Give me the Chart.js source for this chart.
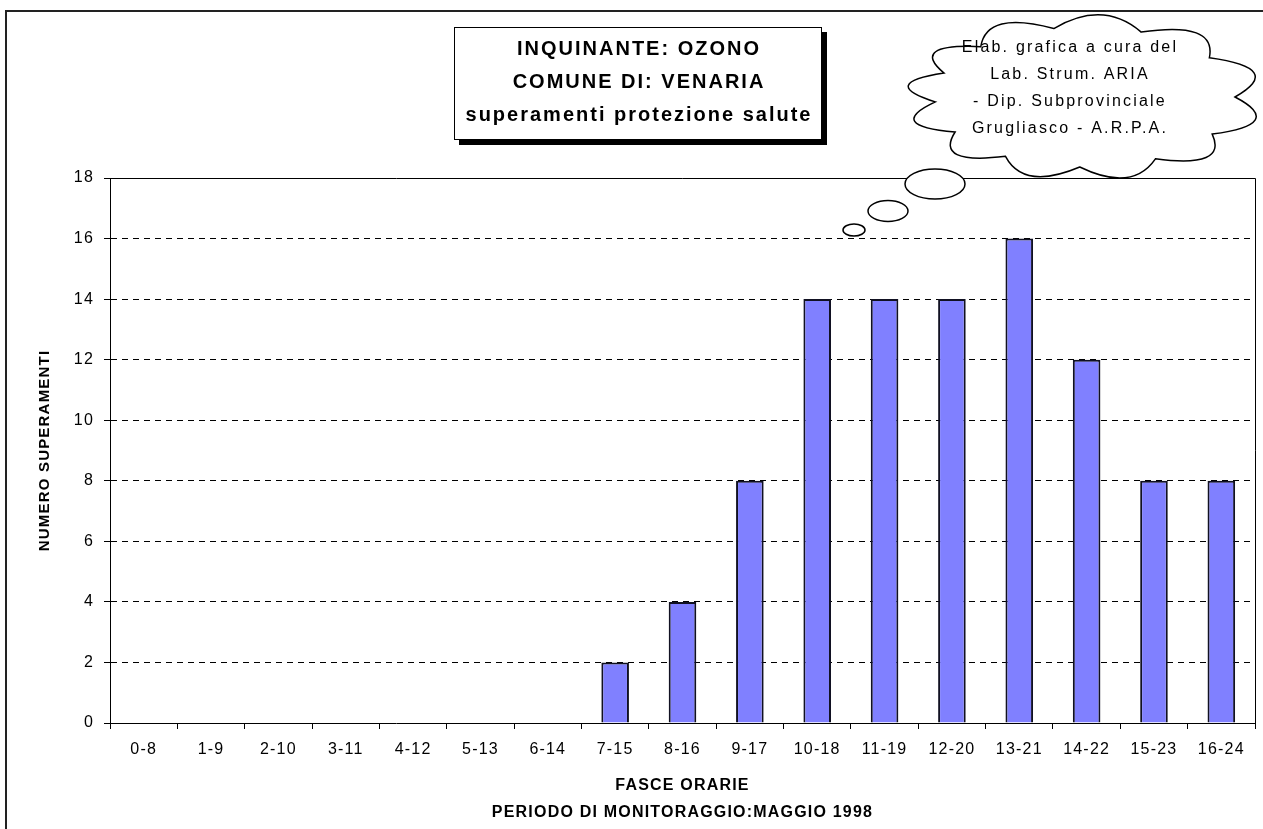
<!DOCTYPE html>
<html>
<head>
<meta charset="utf-8">
<script src="https://cdn.jsdelivr.net/npm/chart.js@4/dist/chart.umd.min.js"></script>
<style>
  html, body { margin: 0; padding: 0; background: #fff; }
  #wrap { position: relative; width: 1263px; height: 829px; }
</style>
</head>
<body>
<div id="wrap"><canvas id="ozono" width="1263" height="829"></canvas></div>
<script>
/* Ozono - superamenti protezione salute, Venaria, maggio 1998 */
const fasce = ['0-8','1-9','2-10','3-11','4-12','5-13','6-14','7-15','8-16','9-17',
               '10-18','11-19','12-20','13-21','14-22','15-23','16-24'];
const superamenti = [0,0,0,0,0,0,0,2,4,8,14,14,14,16,12,8,8];
const yTicks = [0,2,4,6,8,10,12,14,16,18];

const titleLines = ['INQUINANTE: OZONO', 'COMUNE DI: VENARIA', 'superamenti protezione salute'];
const cloudLines = ['Elab. grafica a cura del', 'Lab. Strum. ARIA', '- Dip. Subprovinciale', 'Grugliasco - A.R.P.A.'];

const FONT = 'Arial, "Liberation Sans", sans-serif';

// spacing like the old excel render
const spacing = {
  id: 'spacing',
  beforeInit(chart) { chart.ctx.letterSpacing = '1.2px'; },
  beforeDraw(chart) { chart.ctx.letterSpacing = '1.2px'; }
};

function drawCloud(ctx, cx, cy, rx, ry, angles, k) {
  const pts = angles.map(a => {
    const t = a * Math.PI / 180;
    return [cx + rx * Math.cos(t), cy + ry * Math.sin(t)];
  });
  ctx.beginPath();
  ctx.moveTo(pts[0][0], pts[0][1]);
  for (let i = 0; i < pts.length; i++) {
    const p1 = pts[(i + 1) % pts.length];
    let a0 = angles[i], a1 = angles[(i + 1) % pts.length];
    if (a1 < a0) a1 += 360;
    const am = (a0 + a1) / 2 * Math.PI / 180;
    const cxp = cx + rx * k * Math.cos(am), cyp = cy + ry * k * Math.sin(am);
    ctx.quadraticCurveTo(cxp, cyp, p1[0], p1[1]);
  }
  ctx.closePath();
  ctx.fillStyle = '#fff';
  ctx.fill();
  ctx.lineWidth = 1.5;
  ctx.strokeStyle = '#000';
  ctx.stroke();
}

function bubble(ctx, x, y, rx, ry) {
  ctx.beginPath();
  ctx.ellipse(x, y, rx, ry, 0, 0, Math.PI * 2);
  ctx.fillStyle = '#fff';
  ctx.fill();
  ctx.lineWidth = 1.5;
  ctx.strokeStyle = '#000';
  ctx.stroke();
}

const decor = {
  id: 'decor',
  afterDraw(chart) {
    const ctx = chart.ctx;
    const a = chart.chartArea;
    ctx.save();
    // outer frame (left + top only)
    ctx.strokeStyle = '#222';
    ctx.lineWidth = 2;
    ctx.beginPath();
    ctx.moveTo(6, 829); ctx.lineTo(6, 11); ctx.lineTo(1263, 11);
    ctx.stroke();

    // plot border top + right, solid
    ctx.strokeStyle = '#000';
    ctx.lineWidth = 1;
    ctx.beginPath();
    ctx.moveTo(a.left, a.top + 0.5); ctx.lineTo(a.right + 0.5, a.top + 0.5); ctx.lineTo(a.right + 0.5, a.bottom);
    ctx.stroke();

    // title box with shadow
    ctx.fillStyle = '#000';
    ctx.fillRect(459, 32, 368, 113);
    ctx.fillStyle = '#fff';
    ctx.fillRect(454, 27, 368, 113);
    ctx.strokeStyle = '#000';
    ctx.lineWidth = 1;
    ctx.strokeRect(454.5, 27.5, 367, 112);
    ctx.fillStyle = '#000';
    ctx.font = 'bold 20px ' + FONT;
    ctx.letterSpacing = '2px';
    ctx.textAlign = 'center';
    ctx.textBaseline = 'middle';
    titleLines.forEach((t, i) => ctx.fillText(t, 639, 49 + i * 33));

    // thought cloud
    drawCloud(ctx, 1085, 97, 150, 70,
      [0, 32, 62, 92, 122, 150, 176, 200, 226, 258, 292, 326], 1.4);
    bubble(ctx, 935, 184, 30, 15);
    bubble(ctx, 888, 211, 20, 10.5);
    bubble(ctx, 854, 230, 11, 6);
    ctx.fillStyle = '#000';
    ctx.font = '16px ' + FONT;
    ctx.letterSpacing = '2.2px';
    cloudLines.forEach((t, i) => ctx.fillText(t, 1070, 48 + i * 27));
    ctx.restore();
  }
};

new Chart(document.getElementById('ozono'), {
  type: 'bar',
  data: {
    labels: fasce,
    datasets: [{
      data: superamenti,
      backgroundColor: '#8080ff',
      borderColor: '#111122',
      borderWidth: 2,
      borderSkipped: 'bottom',
      barPercentage: 0.41,
      categoryPercentage: 1
    }]
  },
  options: {
    responsive: false,
    animation: false,
    layout: { padding: { left: 0, top: 178, right: 8, bottom: 0 } },
    plugins: { legend: { display: false }, tooltip: { enabled: false } },
    scales: {
      x: {
        grid: { drawOnChartArea: false, tickLength: 6, color: '#000', offset: true },
        border: { color: '#000', width: 1 },
        ticks: { color: '#000', font: { family: FONT, size: 16 }, padding: 11, maxRotation: 0, autoSkip: false },
        title: {
          display: true,
          text: ['FASCE ORARIE', 'PERIODO DI MONITORAGGIO:MAGGIO 1998'],
          color: '#000',
          font: { family: FONT, size: 16, weight: 'bold', lineHeight: '27px' },
          padding: { top: 0, bottom: 3 }
        },
        afterFit(s) { s.height = 106; }
      },
      y: {
        min: 0, max: 18,
        afterBuildTicks(s) { s.ticks = yTicks.map(v => ({ value: v })); },
        grid: { color: '#000', tickLength: 6, lineWidth: 1 },
        border: { color: '#000', width: 1, dash: [6, 5] },
        ticks: { color: '#000', font: { family: FONT, size: 16 }, padding: 10 },
        title: {
          display: true,
          text: 'NUMERO SUPERAMENTI',
          color: '#000',
          font: { family: FONT, size: 15, weight: 'bold', lineHeight: 1.2 },
          padding: { top: 36, bottom: 0 }
        },
        afterFit(s) { s.width = 110; }
      }
    }
  },
  plugins: [spacing, decor]
});
</script>
</body>
</html>
